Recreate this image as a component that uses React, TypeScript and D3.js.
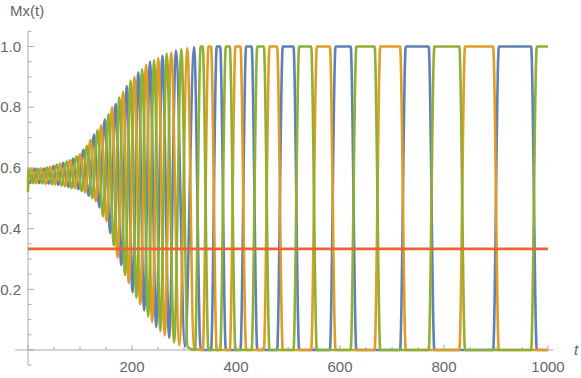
import React from 'react';
import * as d3 from 'd3';

const W = 581;
const H = 378;

// Mx(t) knots: [t, value]
const blueMx: [number, number][] = [
  [0, 0.56], [3.8, 0.55], [12.6, 0.597], [21.6, 0.55], [30.5, 0.598], [39.7, 0.548],
  [48.9, 0.606], [58.3, 0.544], [67.7, 0.617], [77.4, 0.537], [87, 0.63], [96.9, 0.53],
  [106.7, 0.66], [116.8, 0.508], [126.9, 0.71], [137.2, 0.47], [147.5, 0.76], [158.1, 0.385],
  [168.6, 0.81], [179.4, 0.28], [190.1, 0.87], [201.1, 0.19], [212.1, 0.915], [223.4, 0.13],
  [234.6, 0.95], [246.6, 0.075], [258.5, 0.97], [271.5, 0.04], [284.5, 0.987], [302, 0.012],
  [319.5, 0.998], [332, 0], [352, 0], [363, 1], [369.5, 1], [380.5, 0], [408.5, 0], [419.5, 1],
  [430, 1], [441, 0], [479, 0], [490, 1], [510.5, 1], [521.5, 0], [580.5, 0], [591.5, 1],
  [620.5, 1], [631.5, 0], [715.5, 0], [726.5, 1], [770.5, 1], [781.5, 0], [894.5, 0],
  [905.5, 1], [967.5, 1], [978.5, 0], [1000, 0],
];

const orangeMx: [number, number][] = [
  [0, 0.555], [6.7, 0.596], [15.6, 0.549], [24.5, 0.599], [33.6, 0.547], [42.7, 0.604],
  [52.1, 0.545], [61.4, 0.614], [71, 0.539], [80.5, 0.625], [90.3, 0.533], [100.1, 0.645],
  [110.1, 0.519], [120.1, 0.692], [130.4, 0.49], [140.6, 0.74], [151.1, 0.424], [161.5, 0.8],
  [172.2, 0.305], [182.9, 0.85], [193.8, 0.22], [204.7, 0.9], [215.9, 0.15], [227, 0.94],
  [238.8, 0.092], [250.5, 0.962], [263, 0.048], [275.3, 0.98], [291, 0.016], [306.5, 0.995],
  [319, 0.005], [336, 0], [347, 1], [352, 1], [363, 0], [388, 0], [399, 1], [408.5, 1],
  [419.5, 0], [453.5, 0], [464.5, 1], [479, 1], [490, 0], [544.5, 0], [555.5, 1], [580.5, 1],
  [591.5, 0], [666.5, 0], [677.5, 1], [715.5, 1], [726.5, 0], [829.5, 0], [840.5, 1],
  [894.5, 1], [905.5, 0], [1000, 0],
];

const greenMx: [number, number][] = [
  [0, 0.52], [0.9, 0.596], [9.7, 0.55], [18.5, 0.598], [27.6, 0.549], [36.6, 0.602],
  [45.9, 0.546], [55.1, 0.611], [64.6, 0.541], [74.1, 0.621], [83.8, 0.534], [93.5, 0.638],
  [103.5, 0.524], [113.4, 0.673], [123.6, 0.5], [133.7, 0.725], [144.1, 0.44], [154.5, 0.777],
  [165.1, 0.345], [175.7, 0.832], [186.6, 0.247], [197.4, 0.888], [208.5, 0.172],
  [219.5, 0.925], [231, 0.11], [242.5, 0.955], [254.5, 0.062], [266.7, 0.977], [281, 0.025],
  [295, 0.992], [307, 0.01], [321, 0], [332, 1], [336, 1], [347, 0], [369.5, 0], [380.5, 1],
  [388, 1], [399, 0], [430, 0], [441, 1], [453.5, 1], [464.5, 0], [510.5, 0], [521.5, 1],
  [544.5, 1], [555.5, 0], [620.5, 0], [631.5, 1], [666.5, 1], [677.5, 0], [770.5, 0],
  [781.5, 1], [829.5, 1], [840.5, 0], [967.5, 0], [978.5, 1], [1000, 1],
];

const meanMx: [number, number][] = [[0, 0.3333], [1000, 0.3333]];

const xTickLabels = [200, 400, 600, 800, 1000];
const yTickLabels = [0.2, 0.4, 0.6, 0.8, 1.0];

const series = [
  { data: blueMx, color: '#5E81B5' },
  { data: orangeMx, color: '#E19C24' },
  { data: greenMx, color: '#8FB032' },
];

export default function App() {
  const x = d3.scaleLinear().domain([0, 1000]).range([28, 548]);
  const y = d3.scaleLinear().domain([0, 1]).range([350, 46.5]);

  const line = d3
    .line<[number, number]>()
    .x((d) => x(d[0]))
    .y((d) => y(d[1]))
    .curve(d3.curveMonotoneX);

  const axisColor = '#ababab';
  const textColor = '#666';
  const font = '"Liberation Sans", Arial, sans-serif';

  const xMinor = d3.range(0, 1001, 50);
  const yMinor = d3.range(-1, 22).map((i) => i * 0.05);

  return (
    <svg
      width={W}
      height={H}
      style={{ position: 'absolute', left: 0, top: 0, background: '#fff' }}
      fontFamily={font}
    >
      {/* axes */}
      <line x1={x(-25)} x2={x(1010)} y1={y(0)} y2={y(0)} stroke={axisColor} strokeWidth={1} />
      <line x1={x(0)} x2={x(0)} y1={y(-0.05)} y2={y(1.05)} stroke={axisColor} strokeWidth={1} />

      {xMinor.map((t) => {
        const major = t % 200 === 0;
        return (
          <line
            key={'xt' + t}
            x1={x(t)}
            x2={x(t)}
            y1={y(0)}
            y2={y(0) - (major ? 5 : 3)}
            stroke={axisColor}
            strokeWidth={1}
          />
        );
      })}
      {yMinor.map((v, i) => {
        const major = (i - 1) % 4 === 0;
        return (
          <line
            key={'yt' + i}
            x1={x(0)}
            x2={x(0) + (major ? 6 : 3.5)}
            y1={y(v)}
            y2={y(v)}
            stroke={axisColor}
            strokeWidth={1}
          />
        );
      })}

      {xTickLabels.map((t) => (
        <text key={'xl' + t} x={x(t)} y={371.5} textAnchor="middle" fontSize={15} fill={textColor}>
          {t}
        </text>
      ))}
      {yTickLabels.map((v) => (
        <text
          key={'yl' + v}
          x={21}
          y={y(v)}
          dy="0.35em"
          textAnchor="end"
          fontSize={15}
          fill={textColor}
        >
          {v.toFixed(1)}
        </text>
      ))}

      <text x={10} y={16} fontSize={15} fill={textColor}>
        Mx(t)
      </text>
      <text x={574} y={355} fontSize={15} fontStyle="italic" fill={textColor}>
        t
      </text>

      {/* curves */}
      {series.map((s, i) => (
        <path
          key={'s' + i}
          d={line(s.data) || ''}
          fill="none"
          stroke={s.color}
          strokeWidth={2.6}
          strokeLinejoin="round"
        />
      ))}
      <path d={line(meanMx) || ''} fill="none" stroke="#EB6235" strokeWidth={2.6} />
    </svg>
  );
}
